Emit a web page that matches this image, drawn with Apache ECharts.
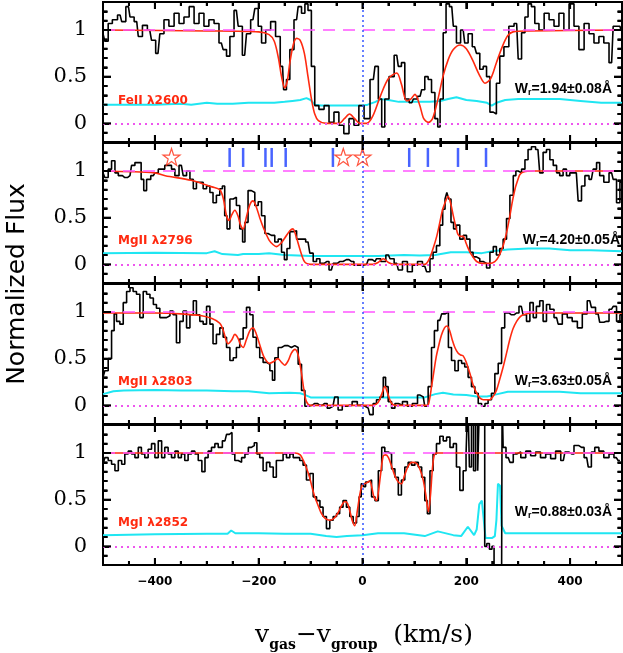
<!DOCTYPE html>
<html><head><meta charset="utf-8">
<script src="https://cdn.jsdelivr.net/npm/echarts@6/dist/echarts.min.js"></script>
<style>html,body{margin:0;padding:0;background:#fff}#c{width:623px;height:653px}</style>
</head><body><div id="c"></div>
<script>
// ---------- DATA (velocity km/s, normalized flux) ----------
const fe2600_flux = [[-500,0.96],[-493,0.88],[-487,1.07],[-477,1.11],[-467,1.16],[-461,1.09],[-451,1.25],[-445,1.14],[-435,1.09],[-429,0.93],[-419,1.05],[-410,1.0],[-403,0.89],[-394,0.75],[-387,0.96],[-378,1.11],[-368,1.04],[-358,1.18],[-349,1.07],[-339,1.14],[-329,1.25],[-320,1.07],[-310,1.18],[-301,1.04],[-291,1.11],[-281,1.07],[-272,0.86],[-265,0.79],[-259,0.72],[-252,0.93],[-243,1.21],[-236,1.04],[-227,0.73],[-220,0.96],[-211,1.11],[-204,1.23],[-198,1.04],[-191,0.86],[-182,1.0],[-172,1.09],[-163,0.93],[-154,0.61],[-150,0.36],[-143,0.47],[-137,0.79],[-127,1.11],[-121,1.25],[-114,1.18],[-108,1.28],[-102,1.21],[-95,0.61],[-89,0.19],[-79,0.15],[-69,0.19],[-60,0.01],[-50,0.12],[-41,-0.02],[-31,-0.11],[-21,0.05],[-12,-0.02],[-2,0.19],[8,0.05],[21,0.47],[27,0.61],[34,0.26],[40,-0.04],[46,0.26],[56,0.5],[66,0.73],[72,0.61],[78,0.65],[85,0.26],[95,0.22],[101,0.26],[111,0.29],[117,0.36],[123,0.5],[130,0.47],[136,0.33],[143,0.05],[147,-0.04],[152,0.26],[159,0.97],[163,1.28],[172,1.25],[178,1.04],[184,0.86],[194,1.0],[200,0.86],[207,0.96],[216,0.82],[223,0.75],[229,0.58],[236,0.61],[242,0.5],[249,0.12],[255,0.1],[261,0.43],[268,0.72],[277,0.82],[287,1.04],[297,1.07],[303,0.69],[310,0.97],[316,1.14],[322,1.28],[329,1.25],[335,1.07],[345,1.0],[355,1.18],[364,1.11],[374,1.04],[383,1.18],[393,1.0],[403,1.28],[412,1.04],[422,0.79],[432,1.07],[441,0.96],[451,0.86],[460,0.93],[470,0.86],[480,0.65],[486,1.04],[496,1.04],[500,1.0]];
const fe2600_model = [[-500,1.0],[-300,0.99],[-200,0.98],[-180,0.95],[-170,0.88],[-162,0.7],[-156,0.5],[-150,0.38],[-145,0.45],[-140,0.65],[-133,0.85],[-127,0.91],[-120,0.89],[-112,0.75],[-105,0.5],[-98,0.25],[-92,0.1],[-85,0.03],[-70,0.0],[-45,0.0],[-35,0.05],[-25,0.1],[-15,0.05],[-5,0.0],[8,0.0],[20,0.08],[35,0.3],[50,0.48],[66,0.54],[75,0.42],[85,0.24],[93,0.26],[101,0.31],[110,0.2],[118,0.05],[127,0.01],[135,0.05],[145,0.25],[155,0.5],[165,0.68],[175,0.79],[188,0.84],[200,0.8],[212,0.68],[225,0.52],[236,0.43],[247,0.48],[258,0.65],[270,0.83],[280,0.94],[290,0.98],[320,0.99],[500,1.0]];
const fe2600_err = [[-500,0.2],[-450,0.2],[-400,0.2],[-350,0.21],[-330,0.2],[-300,0.22],[-280,0.21],[-250,0.21],[-220,0.22],[-200,0.22],[-170,0.22],[-150,0.23],[-135,0.24],[-120,0.25],[-108,0.27],[-100,0.25],[-92,0.2],[-80,0.19],[-60,0.19],[-40,0.19],[-20,0.19],[0,0.19],[10,0.2],[25,0.23],[35,0.26],[50,0.25],[70,0.23],[90,0.23],[110,0.23],[130,0.23],[150,0.24],[165,0.26],[181,0.28],[200,0.25],[220,0.24],[240,0.22],[249,0.19],[258,0.22],[275,0.25],[300,0.26],[340,0.26],[380,0.26],[420,0.24],[460,0.22],[500,0.22]];

const mg2796_flux = [[-500,0.98],[-493,0.93],[-487,1.02],[-480,1.11],[-474,0.98],[-467,0.95],[-458,0.93],[-448,0.95],[-442,1.06],[-435,1.09],[-429,1.09],[-424,0.91],[-419,0.79],[-413,0.91],[-403,0.95],[-397,0.98],[-390,1.02],[-384,1.02],[-378,1.06],[-371,1.06],[-365,1.02],[-358,0.95],[-349,1.06],[-342,0.95],[-336,1.0],[-329,0.91],[-323,0.81],[-317,0.88],[-310,0.88],[-304,0.81],[-297,0.84],[-291,0.77],[-285,0.66],[-278,0.74],[-272,0.81],[-268,0.84],[-263,0.52],[-259,0.38],[-252,0.7],[-246,0.72],[-240,0.63],[-233,0.38],[-229,0.24],[-224,0.45],[-217,0.79],[-211,0.77],[-204,0.63],[-198,0.67],[-191,0.52],[-185,0.33],[-179,0.31],[-172,0.31],[-166,0.24],[-159,0.27],[-153,0.13],[-148,0.05],[-143,0.17],[-137,0.35],[-130,0.36],[-124,0.27],[-114,0.27],[-105,0.24],[-98,0.12],[-92,0.03],[-85,0.06],[-79,0.01],[-69,0.03],[-60,-0.06],[-53,0.01],[-44,0.03],[-31,0.05],[-21,0.03],[-12,-0.01],[-5,-0.01],[8,0.0],[14,0.05],[24,0.03],[30,0.06],[40,0.03],[50,0.1],[56,0.06],[66,0.01],[72,-0.06],[82,0.03],[91,-0.08],[101,-0.01],[111,0.03],[120,-0.02],[127,-0.08],[133,0.06],[139,0.13],[146,0.2],[152,0.42],[157,0.59],[161,0.7],[164,0.77],[168,0.7],[173,0.45],[178,0.38],[184,0.42],[191,0.27],[197,0.31],[204,0.27],[210,0.13],[216,0.08],[223,0.06],[229,0.03],[236,0.01],[242,-0.04],[249,0.13],[255,0.19],[261,0.1],[268,0.17],[274,0.27],[281,0.49],[287,0.74],[294,0.95],[297,1.0],[303,0.98],[310,1.02],[316,1.12],[322,1.23],[329,1.26],[338,1.23],[345,0.98],[351,1.2],[358,1.23],[364,1.12],[371,1.06],[377,0.98],[383,0.95],[390,1.02],[396,0.95],[403,0.98],[412,0.98],[419,0.68],[425,0.84],[432,0.95],[441,0.91],[448,1.02],[454,1.09],[460,0.95],[470,0.88],[480,0.98],[486,0.91],[493,0.66],[499,0.88]];
const mg2796_model = [[-500,1.0],[-400,0.98],[-380,0.95],[-330,0.9],[-290,0.83],[-275,0.8],[-268,0.7],[-262,0.52],[-257,0.47],[-252,0.53],[-246,0.58],[-240,0.52],[-235,0.42],[-230,0.38],[-224,0.5],[-217,0.64],[-211,0.68],[-205,0.62],[-198,0.5],[-190,0.38],[-180,0.26],[-172,0.21],[-166,0.19],[-158,0.22],[-150,0.28],[-140,0.36],[-134,0.38],[-128,0.3],[-120,0.15],[-113,0.04],[-108,0.01],[-100,0.0],[20,0.0],[30,0.02],[40,0.06],[50,0.02],[60,0.0],[120,0.0],[128,0.05],[136,0.17],[143,0.3],[149,0.45],[154,0.58],[159,0.66],[165,0.73],[170,0.65],[175,0.52],[180,0.4],[184,0.32],[189,0.3],[194,0.3],[200,0.22],[207,0.13],[214,0.07],[220,0.03],[230,0.01],[245,0.01],[255,0.03],[262,0.08],[271,0.2],[278,0.35],[284,0.52],[289,0.68],[294,0.81],[299,0.9],[303,0.96],[310,0.99],[330,1.0],[500,1.0]];
const mg2796_err = [[-500,0.12],[-400,0.125],[-300,0.12],[-285,0.14],[-270,0.11],[-240,0.1],[-230,0.11],[-200,0.11],[-180,0.12],[-150,0.1],[-100,0.09],[-50,0.09],[0,0.09],[30,0.09],[80,0.1],[110,0.095],[140,0.1],[170,0.13],[200,0.13],[230,0.12],[250,0.14],[280,0.16],[320,0.17],[360,0.17],[400,0.15],[440,0.15],[500,0.14]];

const mg2803_flux = [[-500,0.3],[-493,0.37],[-487,0.5],[-480,0.8],[-477,0.98],[-471,0.9],[-464,0.87],[-458,1.1],[-451,1.22],[-445,1.26],[-439,1.22],[-432,1.19],[-426,0.94],[-419,1.22],[-413,1.19],[-406,1.15],[-400,1.08],[-394,1.04],[-387,0.94],[-381,0.94],[-374,0.96],[-368,1.01],[-362,0.97],[-355,0.67],[-349,0.9],[-342,1.01],[-336,0.83],[-329,0.97],[-323,1.12],[-317,0.97],[-310,0.9],[-304,0.87],[-297,1.06],[-291,0.87],[-285,0.66],[-278,0.76],[-272,0.83],[-265,0.73],[-259,0.62],[-252,0.48],[-246,0.51],[-240,0.62],[-233,0.71],[-227,0.83],[-220,1.05],[-214,0.97],[-208,0.73],[-201,0.62],[-195,0.51],[-188,0.46],[-182,0.44],[-175,0.37],[-172,0.27],[-166,0.51],[-159,0.62],[-153,0.64],[-147,0.64],[-140,0.62],[-134,0.64],[-127,0.62],[-121,0.44],[-114,0.16],[-108,-0.01],[-102,0.0],[-92,0.02],[-82,0.0],[-73,0.02],[-63,-0.03],[-57,-0.01],[-50,0.09],[-44,-0.05],[-34,-0.01],[-25,0.0],[-15,0.04],[-5,0.0],[5,-0.01],[11,-0.03],[17,-0.1],[24,0.02],[30,0.06],[37,0.09],[43,0.3],[46,0.2],[53,0.04],[59,-0.03],[66,0.02],[72,0.0],[82,0.04],[91,-0.01],[101,0.02],[111,0.11],[117,0.09],[123,-0.01],[130,0.2],[136,0.62],[141,0.8],[149,0.91],[156,0.98],[163,1.0],[168,0.62],[175,0.48],[181,0.37],[188,0.48],[194,0.45],[200,0.41],[207,0.3],[213,0.2],[220,0.13],[226,0.02],[233,-0.01],[239,0.02],[245,0.06],[252,0.13],[258,0.34],[265,0.45],[271,0.83],[277,0.99],[287,0.97],[297,0.99],[306,1.06],[313,0.97],[319,0.9],[326,1.1],[332,0.94],[338,1.06],[345,1.12],[351,0.9],[358,1.08],[364,1.03],[374,0.94],[380,0.87],[390,0.98],[399,0.94],[409,0.9],[419,0.83],[428,0.98],[438,1.12],[444,1.05],[454,0.98],[460,0.89],[470,0.9],[480,1.03],[486,1.06],[493,0.9],[499,0.97]];
const mg2803_model = [[-500,0.99],[-400,0.99],[-350,0.98],[-310,0.96],[-290,0.93],[-275,0.88],[-268,0.8],[-263,0.7],[-259,0.66],[-252,0.7],[-246,0.76],[-240,0.72],[-235,0.65],[-230,0.62],[-224,0.7],[-217,0.8],[-211,0.83],[-205,0.77],[-198,0.65],[-190,0.52],[-179,0.45],[-171,0.47],[-163,0.5],[-156,0.46],[-150,0.43],[-143,0.48],[-137,0.56],[-130,0.6],[-124,0.54],[-118,0.36],[-113,0.17],[-108,0.04],[-100,0.0],[20,0.0],[30,0.03],[37,0.12],[43,0.2],[49,0.12],[55,0.03],[62,0.0],[125,0.0],[129,0.06],[133,0.2],[138,0.38],[142,0.52],[146,0.62],[152,0.75],[158,0.83],[163,0.85],[168,0.8],[173,0.7],[178,0.62],[184,0.56],[189,0.54],[194,0.53],[200,0.46],[207,0.34],[213,0.22],[220,0.13],[226,0.08],[233,0.06],[245,0.06],[252,0.1],[258,0.16],[264,0.27],[271,0.41],[278,0.57],[284,0.71],[290,0.82],[297,0.9],[304,0.95],[310,0.97],[325,0.99],[500,0.99]];
const mg2803_err = [[-500,0.12],[-480,0.15],[-460,0.16],[-400,0.165],[-350,0.16],[-300,0.16],[-250,0.15],[-220,0.15],[-180,0.13],[-140,0.135],[-120,0.13],[-110,0.11],[-100,0.085],[-50,0.085],[0,0.085],[60,0.085],[120,0.085],[140,0.12],[155,0.135],[175,0.115],[200,0.11],[220,0.095],[240,0.095],[260,0.12],[280,0.145],[320,0.145],[380,0.145],[420,0.13],[500,0.13]];

const mg2852_flux = [[-500,0.88],[-493,0.95],[-487,0.92],[-480,0.88],[-474,0.81],[-467,0.92],[-461,0.88],[-455,0.99],[-448,1.02],[-442,0.99],[-435,0.95],[-429,1.06],[-423,0.99],[-416,0.95],[-410,1.04],[-403,1.1],[-397,0.95],[-390,1.13],[-384,0.95],[-378,1.06],[-371,0.99],[-365,0.95],[-358,1.02],[-352,0.95],[-346,0.99],[-339,0.92],[-333,0.99],[-326,1.02],[-320,0.99],[-313,0.92],[-306,0.8],[-301,0.95],[-294,1.02],[-288,1.06],[-281,1.1],[-275,1.06],[-265,1.13],[-259,1.2],[-254,1.22],[-249,0.99],[-243,0.92],[-236,0.9],[-230,0.95],[-223,0.99],[-217,1.06],[-211,1.08],[-206,1.11],[-201,0.99],[-195,0.95],[-188,0.81],[-182,0.9],[-175,0.85],[-169,0.74],[-163,0.92],[-156,0.92],[-150,0.99],[-143,0.95],[-137,0.99],[-130,0.95],[-124,0.95],[-118,0.92],[-111,0.87],[-105,0.71],[-98,0.78],[-92,0.53],[-85,0.49],[-79,0.42],[-73,0.32],[-66,0.19],[-60,0.28],[-53,0.32],[-47,0.35],[-41,0.42],[-34,0.49],[-28,0.42],[-21,0.32],[-15,0.25],[-8,0.32],[-5,0.53],[0,0.67],[4,0.64],[8,0.69],[14,0.71],[21,0.53],[27,0.49],[34,0.81],[40,1.06],[46,1.01],[53,0.99],[59,0.83],[66,0.74],[72,0.55],[78,0.71],[85,0.85],[91,0.9],[98,0.87],[104,0.9],[111,0.85],[117,0.74],[123,0.49],[127,0.35],[133,0.81],[139,0.99],[146,1.1],[152,1.18],[159,1.13],[165,1.17],[172,1.06],[178,1.1],[184,0.85],[191,0.6],[197,0.81],[202,0.99],[204,1.6],[208,0.85],[212,1.6],[216,0.81],[220,1.6],[224,0.81],[227,1.6],[234,1.6],[237,0.0],[242,0.03],[247,-0.03],[252,0.0],[255,-0.4],[268,-0.4],[270,1.6],[272,1.06],[281,0.95],[287,0.9],[294,0.99],[300,1.01],[310,0.95],[319,1.02],[329,0.97],[338,1.01],[348,0.95],[358,0.99],[367,0.94],[377,1.02],[387,0.92],[393,1.01],[403,0.99],[412,1.08],[422,1.06],[432,0.95],[438,0.85],[444,1.01],[451,1.06],[460,1.02],[470,0.95],[480,0.99],[489,0.95],[496,0.92]];
const mg2852_model = [[-500,1.0],[-130,1.0],[-120,0.98],[-114,0.92],[-108,0.84],[-102,0.74],[-97,0.63],[-92,0.53],[-85,0.43],[-79,0.35],[-72,0.3],[-63,0.28],[-55,0.3],[-47,0.36],[-40,0.44],[-34,0.48],[-29,0.46],[-24,0.37],[-20,0.28],[-15,0.22],[-10,0.38],[-5,0.56],[0,0.66],[8,0.68],[14,0.7],[18,0.63],[22,0.53],[27,0.49],[31,0.6],[35,0.78],[40,0.97],[45,0.98],[50,0.95],[56,0.86],[62,0.76],[69,0.69],[75,0.67],[81,0.76],[88,0.86],[95,0.9],[104,0.89],[111,0.82],[117,0.71],[122,0.55],[127,0.37],[131,0.55],[135,0.85],[139,0.99],[145,1.0],[500,1.0]];
const mg2852_err = [[-500,0.12],[-400,0.13],[-300,0.135],[-260,0.135],[-253,0.17],[-245,0.14],[-200,0.14],[-150,0.135],[-100,0.135],[-70,0.11],[-50,0.1],[-30,0.11],[0,0.12],[30,0.14],[80,0.14],[120,0.11],[145,0.16],[175,0.12],[190,0.11],[203,0.21],[215,0.12],[220,0.18],[225,0.45],[230,0.49],[233,0.32],[237,0.09],[250,0.09],[255,0.11],[258,0.28],[261,0.67],[265,0.65],[268,0.22],[275,0.14],[300,0.14],[400,0.14],[500,0.14]];

const panelLabels = ['FeII \u03bb2600', 'MgII \u03bb2796', 'MgII \u03bb2803', 'MgI \u03bb2852'];
const ewLabels = ['=1.94\u00b10.08\u00c5', '=4.20\u00b10.05\u00c5', '=3.63\u00b10.05\u00c5', '=0.88\u00b10.03\u00c5'];
const componentV = [-256, -230, -187, -175, -148, -57, 90, 126, 184, 238];
const starV = [-368, -37, 0];
const componentY = 1.145;
const starY = 1.15;

// tick positions
const xTicksMajor = [-400, -200, 0, 200, 400];
const xTicksMinor = [-450, -350, -300, -250, -150, -100, -50, 50, 100, 150, 250, 300, 350, 450];
const yTicksMajor = [0, 0.5, 1];
const yTicksMinor = [-0.1, 0.1, 0.2, 0.3, 0.4, 0.6, 0.7, 0.8, 0.9, 1.1, 1.2];

// ---------- LAYOUT ----------
const XMIN = -500, XMAX = 500, YMIN = -0.2, YMAX = 1.3;
const panels = [
  {flux: fe2600_flux, model: fe2600_model, err: fe2600_err},
  {flux: mg2796_flux, model: mg2796_model, err: mg2796_err},
  {flux: mg2803_flux, model: mg2803_model, err: mg2803_err},
  {flux: mg2852_flux, model: mg2852_model, err: mg2852_err}
];
const tops = [2, 143, 284, 425];
const H = 140;
const labelY = [101, 241, 382, 523];
const ewY = [89, 240, 381, 512];
const ewX = [612, 620, 612, 612];

const grid = [], xAxis = [], yAxis = [], series = [], graphic = [];
const black = '#000';

panels.forEach((p, i) => {
  grid.push({left: 103, right: 1, top: tops[i], height: H, show: true, borderColor: black, borderWidth: 2,
    backgroundColor: 'rgba(0,0,0,0)'});

  // bottom x axis: labels (panel 4 only) + major ticks every 200
  xAxis.push({gridIndex: i, type: 'value', min: XMIN, max: XMAX, position: 'bottom',
    splitNumber: 5, minInterval: 200, maxInterval: 200, splitLine: {show: false},
    axisLine: {show: false, onZero: false},
    axisTick: {show: true, inside: true, length: 7, lineStyle: {color: '#000000', width: 2}},
    axisLabel: {show: i === 3, showMinLabel: false, showMaxLabel: false, margin: 11, color: black,
      fontFamily: 'DejaVu Sans', fontWeight: 'bold', fontSize: 12,
      formatter: v => (v < 0 ? '\u2212' + (-v) : String(v))}});
  // bottom minor ticks every 50
  xAxis.push({gridIndex: i, type: 'value', min: XMIN, max: XMAX, position: 'bottom', interval: 50,
    splitLine: {show: false}, axisLine: {show: false, onZero: false},
    axisTick: {show: true, inside: true, length: 4, lineStyle: {color: '#000000', width: 2}},
    axisLabel: {show: false}});
  // top major + minor
  xAxis.push({gridIndex: i, type: 'value', min: XMIN, max: XMAX, position: 'top',
    splitNumber: 5, minInterval: 200, maxInterval: 200, splitLine: {show: false},
    axisLine: {show: false, onZero: false},
    axisTick: {show: true, inside: true, length: 7, lineStyle: {color: '#000000', width: 2}},
    axisLabel: {show: false}});
  xAxis.push({gridIndex: i, type: 'value', min: XMIN, max: XMAX, position: 'top', interval: 50,
    splitLine: {show: false}, axisLine: {show: false, onZero: false},
    axisTick: {show: true, inside: true, length: 4, lineStyle: {color: '#000000', width: 2}},
    axisLabel: {show: false}});

  yAxis.push({gridIndex: i, type: 'value', min: YMIN, max: YMAX, position: 'left',
    splitNumber: 3, minInterval: 0.5, maxInterval: 0.5, splitLine: {show: false},
    axisLine: {show: false, onZero: false},
    axisTick: {show: true, inside: true, length: 8, lineStyle: {color: '#000000', width: 2}},
    axisLabel: {show: true, showMinLabel: false, showMaxLabel: false, margin: 16, color: black,
      fontFamily: 'DejaVu Serif', fontSize: 21}});
  yAxis.push({gridIndex: i, type: 'value', min: YMIN, max: YMAX, position: 'left', interval: 0.1,
    splitLine: {show: false}, axisLine: {show: false, onZero: false},
    axisTick: {show: true, inside: true, length: 4.5, lineStyle: {color: '#000000', width: 2}},
    axisLabel: {show: false}});
  yAxis.push({gridIndex: i, type: 'value', min: YMIN, max: YMAX, position: 'right',
    splitNumber: 3, minInterval: 0.5, maxInterval: 0.5, splitLine: {show: false},
    axisLine: {show: false, onZero: false},
    axisTick: {show: true, inside: true, length: 8, lineStyle: {color: '#000000', width: 2}},
    axisLabel: {show: false}});
  yAxis.push({gridIndex: i, type: 'value', min: YMIN, max: YMAX, position: 'right', interval: 0.1,
    splitLine: {show: false}, axisLine: {show: false, onZero: false},
    axisTick: {show: true, inside: true, length: 4.5, lineStyle: {color: '#000000', width: 2}},
    axisLabel: {show: false}});

  const ax = {xAxisIndex: 4 * i, yAxisIndex: 4 * i};
  // tick marks also drawn as inward scatter marks at the listed tick positions
  const tk = (data, size, off) => Object.assign({type: 'scatter', data, symbol: 'rect', symbolSize: size,
    symbolOffset: off, itemStyle: {color: '#000000', opacity: 1}, z: 8, silent: true, clip: false}, ax);
  series.push(tk(xTicksMajor.map(v => [v, YMIN]), [2, 7], [0, -3.5]));
  series.push(tk(xTicksMajor.map(v => [v, YMAX]), [2, 7], [0, 3.5]));
  series.push(tk(xTicksMinor.map(v => [v, YMIN]), [2, 4], [0, -2]));
  series.push(tk(xTicksMinor.map(v => [v, YMAX]), [2, 4], [0, 2]));
  series.push(tk(yTicksMajor.map(v => [XMIN, v]), [8, 2], [4, 0]));
  series.push(tk(yTicksMajor.map(v => [XMAX, v]), [8, 2], [-4, 0]));
  series.push(tk(yTicksMinor.map(v => [XMIN, v]), [4.5, 2], [2.25, 0]));
  series.push(tk(yTicksMinor.map(v => [XMAX, v]), [4.5, 2], [-2.25, 0]));

  series.push(Object.assign({type: 'line', data: p.err, showSymbol: false, symbol: 'none', z: 2,
    lineStyle: {color: '#1fe6f2', width: 2}, clip: true,
    markLine: {silent: true, symbol: 'none', label: {show: false}, animation: false,
      data: [
        {yAxis: 1, lineStyle: {type: [12, 8], color: '#ff55ff', width: 1.5}},
        {yAxis: 0, lineStyle: {type: [2, 4], color: '#ee55ee', width: 2}},
        {xAxis: 0, lineStyle: {type: [2, 3], color: '#3355ff', width: 1.5}}
      ]}}, ax));
  series.push(Object.assign({type: 'line', data: p.flux, step: 'middle', showSymbol: false, symbol: 'none', z: 3,
    lineStyle: {color: black, width: 1.6}, clip: true}, ax));
  series.push(Object.assign({type: 'line', data: p.model, smooth: 0.3, showSymbol: false, symbol: 'none', z: 4,
    lineStyle: {color: '#ff2a10', width: 1.6}, clip: true}, ax));

  graphic.push({type: 'text', x: 118, y: labelY[i], z: 10,
    style: {text: panelLabels[i], fill: '#ff2a10', font: 'bold 12px "DejaVu Sans"',
      textAlign: 'left', textVerticalAlign: 'middle', align: 'left', verticalAlign: 'middle'}});
  graphic.push({type: 'text', x: ewX[i], y: ewY[i], z: 10,
    style: {text: '{w|W}{s|r}{w|' + ewLabels[i] + '}', fill: black,
      rich: {w: {fontFamily: 'Liberation Sans', fontWeight: 'bold', fontSize: 14, lineHeight: 17, verticalAlign: 'middle'},
             s: {fontFamily: 'Liberation Sans', fontWeight: 'bold', fontSize: 9, lineHeight: 9, verticalAlign: 'bottom'}},
      textAlign: 'right', textVerticalAlign: 'middle', align: 'right', verticalAlign: 'middle'}});
});

// component markers and stars on MgII 2796 panel
series.push({type: 'scatter', xAxisIndex: 4, yAxisIndex: 4, z: 5, symbol: 'rect', symbolSize: [2.5, 19],
  itemStyle: {color: '#1a3cff'}, data: componentV.map(v => [v, componentY])});
series.push({type: 'scatter', xAxisIndex: 4, yAxisIndex: 4, z: 5,
  symbol: 'path://M50,0 L61.8,35.1 L98.1,35.1 L68.8,56.8 L79.4,91.2 L50,70 L20.6,91.2 L31.2,56.8 L1.9,35.1 L38.2,35.1 Z',
  symbolSize: 17, itemStyle: {color: 'rgba(255,255,255,0)', borderColor: '#ff2a10', borderWidth: 1.2},
  data: starV.map(v => [v, starY])});

graphic.push({type: 'text', x: 17, y: 284, rotation: Math.PI / 2, z: 10,
  style: {text: 'Normalized Flux', fill: black, font: '25px "DejaVu Sans"',
    textAlign: 'center', textVerticalAlign: 'middle', align: 'center', verticalAlign: 'middle'}});
graphic.push({type: 'text', x: 364, y: 635, z: 10,
  style: {text: '{v|v}{s|gas}{v|\u2212v}{s|group}{v|  (km/s)}', fill: black,
    rich: {v: {fontFamily: 'DejaVu Serif', fontSize: 25, lineHeight: 34, verticalAlign: 'middle'},
           s: {fontFamily: 'DejaVu Serif', fontWeight: 'bold', fontSize: 14, lineHeight: 14, verticalAlign: 'bottom'}},
    textAlign: 'center', textVerticalAlign: 'middle', align: 'center', verticalAlign: 'middle'}});

const chart = echarts.init(document.getElementById('c'), null, {renderer: 'canvas'});
chart.setOption({animation: false, backgroundColor: '#fff', grid, xAxis, yAxis, series, graphic});
</script></body></html>
